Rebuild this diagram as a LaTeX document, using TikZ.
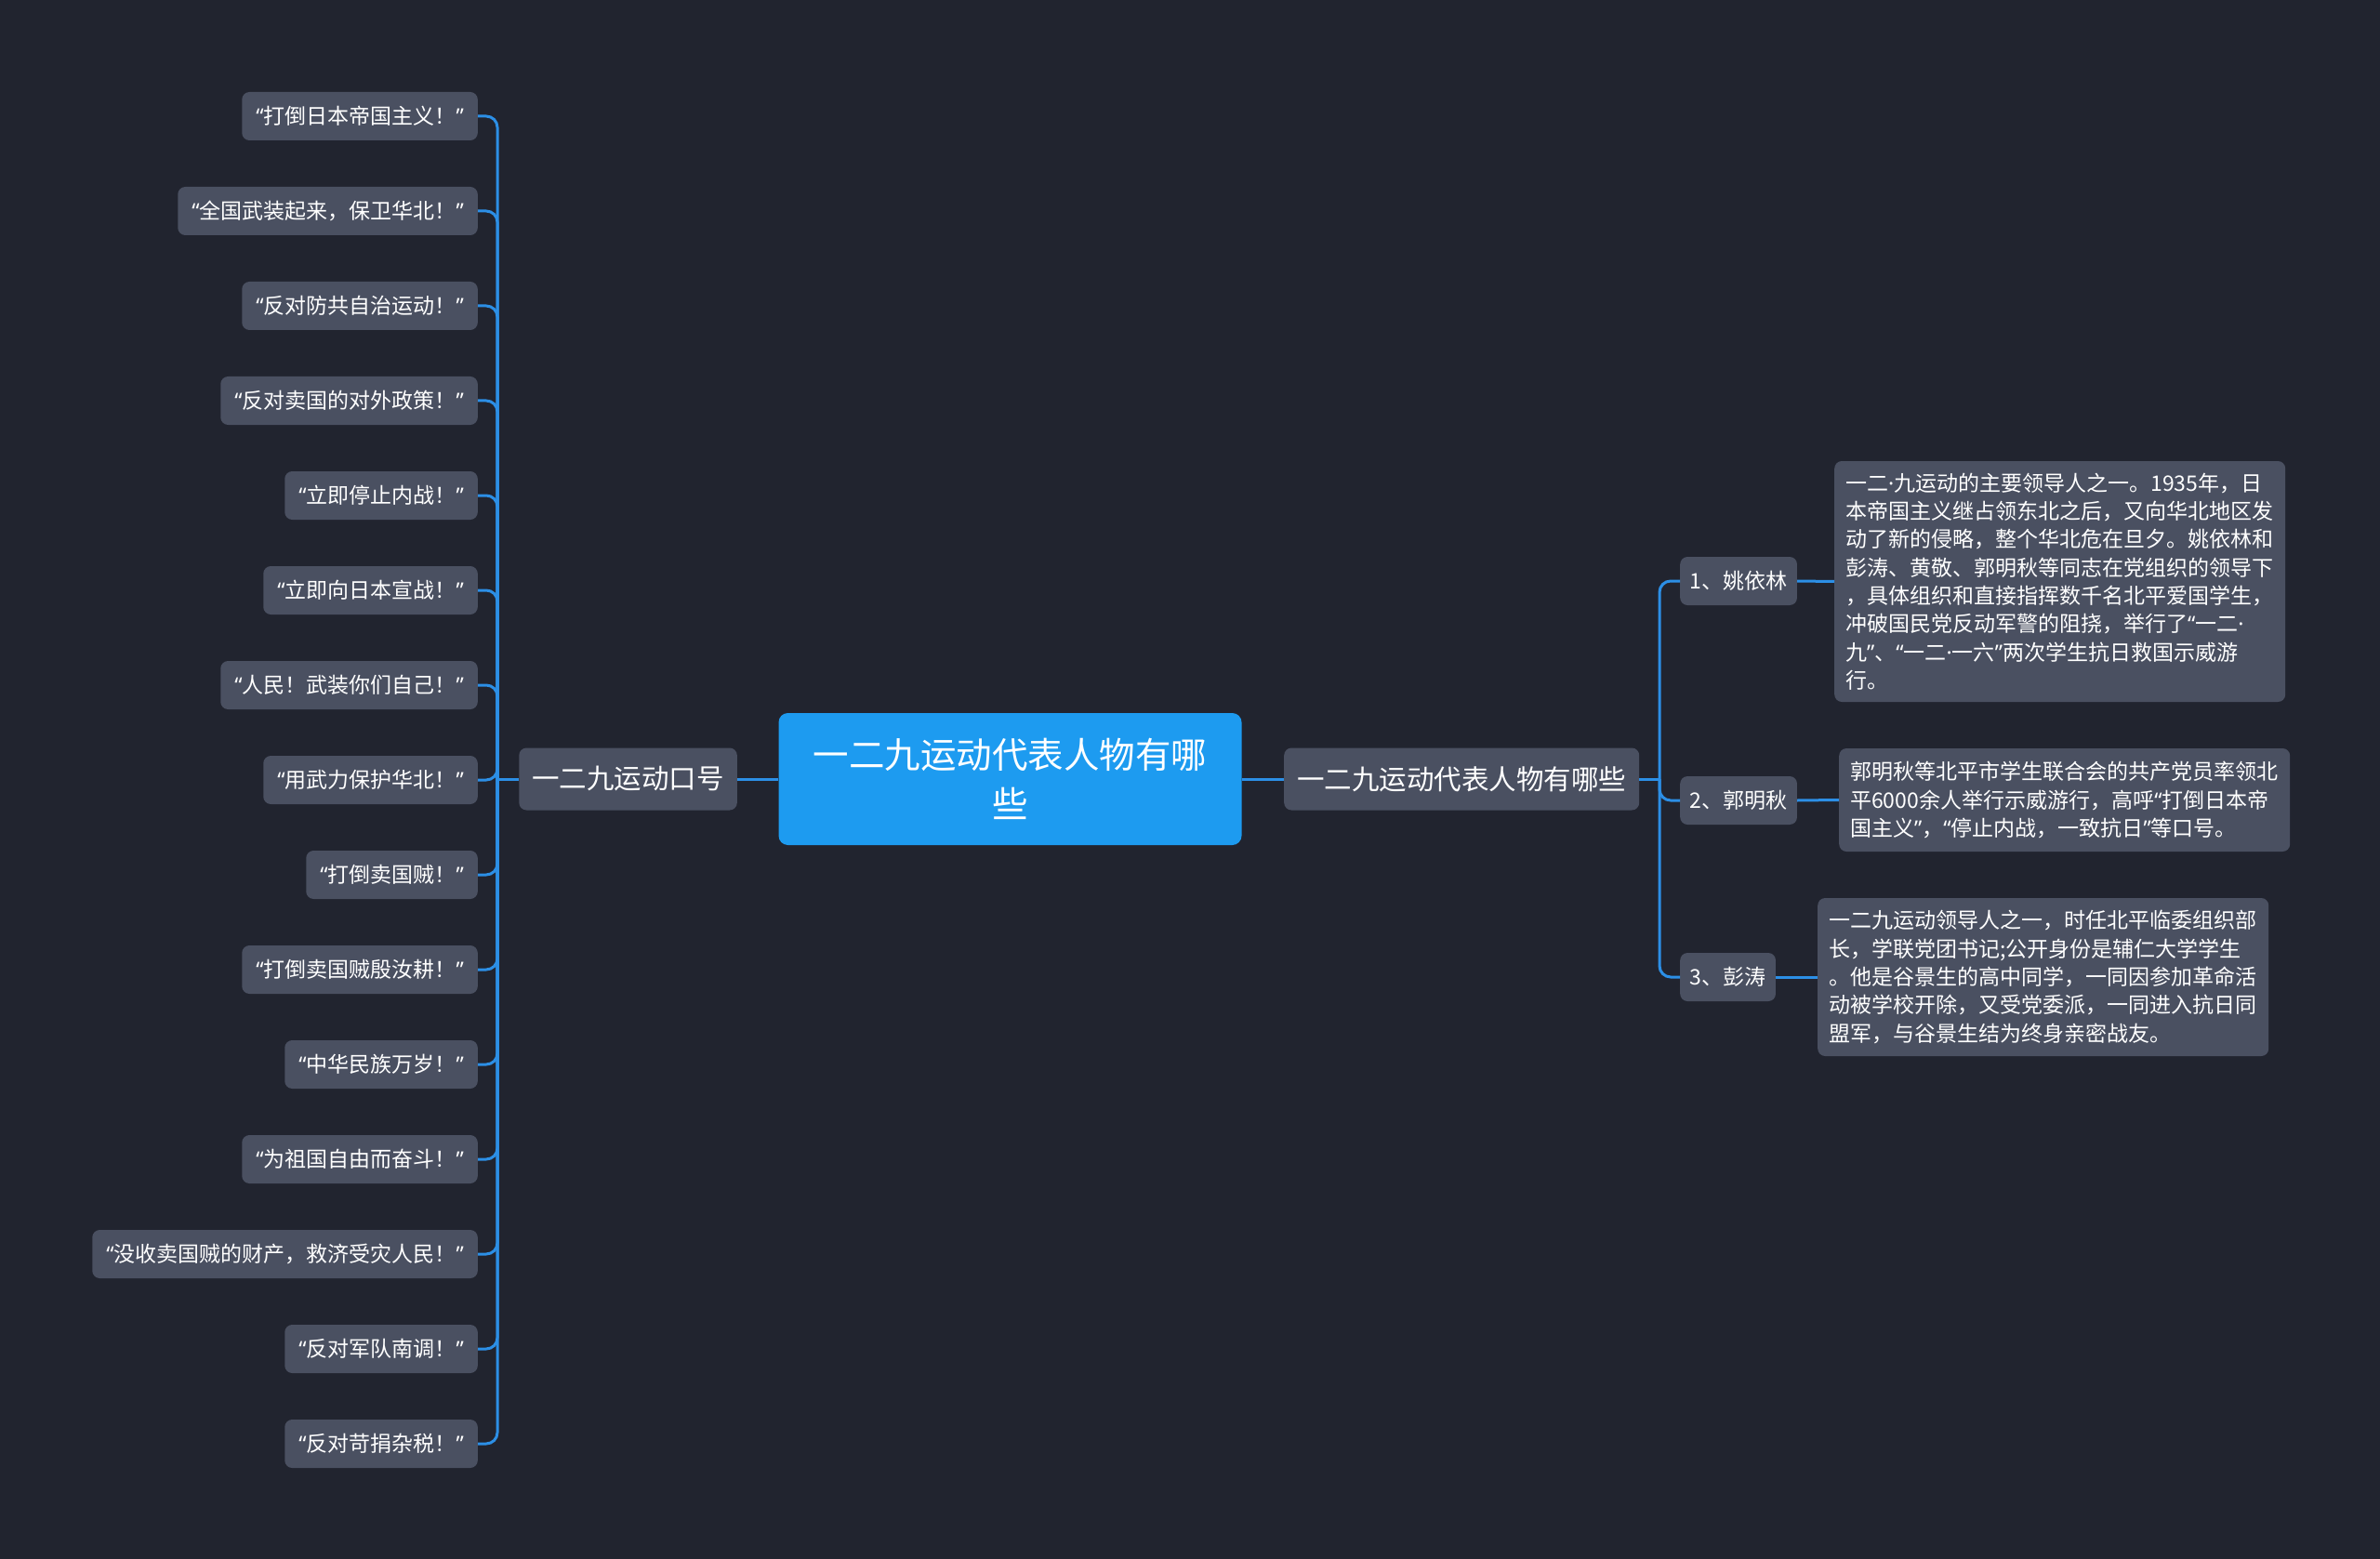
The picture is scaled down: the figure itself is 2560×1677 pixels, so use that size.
\documentclass[tikz,border=0pt]{standalone}
\usepackage{fontspec}
\setmainfont{Noto Sans CJK SC}
\newfontfamily\latf{Noto Sans}
\newcommand\qL{{\latf “}}
\newcommand\qR{{\latf ”}}
\newcommand\mdt{{\latf ·}}
\definecolor{bg}{HTML}{21242F}
\definecolor{nodegray}{HTML}{4A5061}
\definecolor{rootblue}{HTML}{1D9BF0}
\definecolor{lineblue}{HTML}{2C8FE6}
\tikzset{
  conn/.style={draw=lineblue, line width=3pt, rounded corners=12pt},
  boxbase/.style={fill=nodegray, rounded corners=8pt, text=white, inner ysep=0pt},
  leaf/.style={boxbase, font=\fontsize{23}{28}\selectfont, inner xsep=15pt, minimum height=52pt, anchor=east},
  person/.style={boxbase, font=\fontsize{23}{28}\selectfont, inner xsep=10.5pt, minimum height=52pt, anchor=west},
  midbox/.style={boxbase, font=\fontsize{29.5}{36}\selectfont, inner xsep=14pt, minimum height=67pt},
  rootbox/.style={fill=rootblue, rounded corners=10pt, text=white, inner sep=0pt, align=center,
    minimum width=498pt, minimum height=142pt, font=\fontsize{38.5}{53}\selectfont},
  detail/.style={boxbase, anchor=west, align=left, text width=461pt, inner xsep=12pt,
    font=\fontsize{23}{30.3}\selectfont},
}
\begin{document}
\begin{tikzpicture}[x=1pt,y=-1pt]
\fill[bg] (0,0) rectangle (2560,1677);
\useasboundingbox (0,0) rectangle (2560,1677);

% central and first-level nodes
\node[rootbox] (root) at (1086.5,838) {一二九运动代表人物有哪\\些};
\node[midbox, anchor=east] (lslogan) at (793,838) {一二九运动口号};
\node[midbox, anchor=west] (rpeople) at (1381,838) {一二九运动代表人物有哪些};

% slogans
\node[leaf] (s1) at (514,125) {\qL 打倒日本帝国主义！\qR};
\node[leaf] (s2) at (514,227) {\qL 全国武装起来，保卫华北！\qR};
\node[leaf] (s3) at (514,329) {\qL 反对防共自治运动！\qR};
\node[leaf] (s4) at (514,431) {\qL 反对卖国的对外政策！\qR};
\node[leaf] (s5) at (514,533) {\qL 立即停止内战！\qR};
\node[leaf] (s6) at (514,635) {\qL 立即向日本宣战！\qR};
\node[leaf] (s7) at (514,737) {\qL 人民！武装你们自己！\qR};
\node[leaf] (s8) at (514,839) {\qL 用武力保护华北！\qR};
\node[leaf] (s9) at (514,941) {\qL 打倒卖国贼！\qR};
\node[leaf] (s10) at (514,1043) {\qL 打倒卖国贼殷汝耕！\qR};
\node[leaf] (s11) at (514,1145) {\qL 中华民族万岁！\qR};
\node[leaf] (s12) at (514,1247) {\qL 为祖国自由而奋斗！\qR};
\node[leaf] (s13) at (514,1349) {\qL 没收卖国贼的财产，救济受灾人民！\qR};
\node[leaf] (s14) at (514,1451) {\qL 反对军队南调！\qR};
\node[leaf] (s15) at (514,1553) {\qL 反对苛捐杂税！\qR};

% people
\node[person] (p1) at (1807,625) {1、姚依林};
\node[person] (p2) at (1807,861) {2、郭明秋};
\node[person] (p3) at (1807,1051) {3、彭涛};

% details
\node[detail, minimum height=259pt] (d1) at (1973,625.5) {一二\mdt 九运动的主要领导人之一。1935年，日\\本帝国主义继占领东北之后，又向华北地区发\\动了新的侵略，整个华北危在旦夕。姚依林和\\彭涛、黄敬、郭明秋等同志在党组织的领导下\\，具体组织和直接指挥数千名北平爱国学生，\\冲破国民党反动军警的阻挠，举行了\qL 一二\mdt\\九\qR 、\qL 一二\mdt 一六\qR 两次学生抗日救国示威游\\行。};
\node[detail, minimum height=111pt] (d2) at (1978,860.5) {郭明秋等北平市学生联合会的共产党员率领北\\平6000余人举行示威游行，高呼\qL 打倒日本帝\\国主义\qR ，\qL 停止内战，一致抗日\qR 等口号。};
\node[detail, minimum height=170pt] (d3) at (1955,1051) {一二九运动领导人之一，时任北平临委组织部\\长，学联党团书记;公开身份是辅仁大学学生\\。他是谷景生的高中同学，一同因参加革命活\\动被学校开除，又受党委派，一同进入抗日同\\盟军，与谷景生结为终身亲密战友。};

% trunk points
\coordinate (ltrunk) at (535,838);
\coordinate (rtrunk) at (1785,838);

% connectors
\draw[conn] (root.west) -- (lslogan.east);
\draw[conn] (root.east) -- (rpeople.west);
\draw[conn] (lslogan.west) -- (ltrunk);
\foreach \s in {s1,s2,s3,s4,s5,s6,s7,s8,s9,s10,s11,s12,s13,s14,s15}
  \draw[conn] (\s.east) -| (ltrunk);
\draw[conn] (rpeople.east) -- (rtrunk);
\draw[conn] (rtrunk) |- (p1.west);
\draw[conn] (rtrunk) |- (p2.west);
\draw[conn] (rtrunk) |- (p3.west);
\draw[conn] (p1.east) -- (d1.west);
\draw[conn] (p2.east) -- (d2.west);
\draw[conn] (p3.east) -- (d3.west);
\end{tikzpicture}
\end{document}
